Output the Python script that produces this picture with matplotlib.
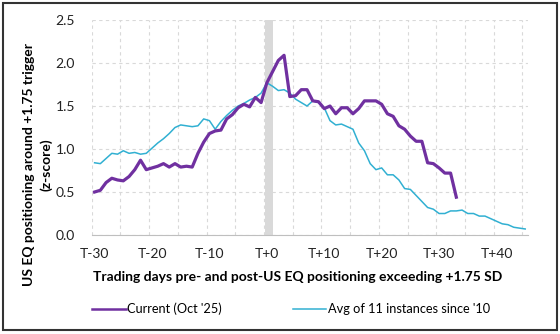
import matplotlib.pyplot as plt
from matplotlib.patches import Rectangle

plt.rcParams['font.family'] = ['Lato', 'DejaVu Sans']

# trading days relative to the trigger
days_avg = list(range(-30, 46))
days_cur = list(range(-30, 34))

current = [0.50, 0.52, 0.61, 0.66, 0.64, 0.63, 0.68, 0.76, 0.87, 0.76,
           0.78, 0.80, 0.83, 0.79, 0.83, 0.79, 0.80, 0.79, 0.95, 1.08,
           1.18, 1.21, 1.22, 1.35, 1.40, 1.48, 1.52, 1.49, 1.60, 1.54,
           1.77, 1.90, 2.03, 2.09, 1.61, 1.62, 1.69, 1.69, 1.56, 1.55,
           1.47, 1.50, 1.41, 1.48, 1.48, 1.41, 1.47, 1.56, 1.56, 1.56,
           1.52, 1.41, 1.38, 1.27, 1.23, 1.15, 1.09, 1.09, 0.84, 0.83,
           0.78, 0.72, 0.72, 0.44]

avg = [0.84, 0.83, 0.89, 0.95, 0.94, 0.98, 0.95, 0.96, 0.94, 0.95,
       1.01, 1.07, 1.12, 1.18, 1.25, 1.28, 1.27, 1.26, 1.27, 1.35,
       1.33, 1.23, 1.32, 1.39, 1.45, 1.50, 1.53, 1.57, 1.60, 1.65,
       1.77, 1.73, 1.68, 1.69, 1.65, 1.58, 1.54, 1.50, 1.56, 1.54,
       1.48, 1.33, 1.28, 1.29, 1.26, 1.23, 1.07, 0.98, 0.83, 0.76,
       0.78, 0.70, 0.70, 0.64, 0.54, 0.53, 0.46, 0.39, 0.32, 0.30,
       0.25, 0.25, 0.28, 0.28, 0.29, 0.25, 0.25, 0.22, 0.22, 0.19,
       0.16, 0.13, 0.12, 0.09, 0.08, 0.07]

tick_pos = [-30, -20, -10, 0, 10, 20, 30, 40]
tick_labels = ['T-30', 'T-20', 'T-10', 'T+0', 'T+10', 'T+20', 'T+30', 'T+40']

purple = '#7030A0'
cyan = '#31B0D2'

fig = plt.figure(figsize=(5.6, 3.34), dpi=100)
ax = fig.add_axes([0.1638, 0.2964, 0.943 - 0.1638, 0.940 - 0.2964])

ax.axvspan(-0.4, 1.0, color='#D9D9D9', lw=0, zorder=1)
ax.plot(days_avg, avg, color=cyan, lw=1.1, zorder=3, label="Avg of 11 instances since '10")
ax.plot(days_cur, current, color=purple, lw=2.3, zorder=4, label="Current (Oct '25)")

ax.set_xlim(-30.5, 45.5)
ax.set_ylim(0, 2.5)
ax.set_xticks(tick_pos)
ax.set_xticklabels(tick_labels)
ax.set_xticks([x - 0.5 for x in range(-30, 46, 5)], minor=True)
ax.set_yticks([0, 0.5, 1.0, 1.5, 2.0, 2.5])
ax.set_yticklabels(['0.0', '0.5', '1.0', '1.5', '2.0', '2.5'])
ax.tick_params(axis='both', which='both', length=0, labelsize=10, colors='#222222')
ax.tick_params(axis='x', pad=9)
ax.tick_params(axis='y', pad=12)

ax.grid(axis='y', which='major', color='#D9D9D9', ls=(0, (3, 3)), lw=0.8)
ax.grid(axis='x', which='minor', color='#D9D9D9', ls=(0, (3, 3)), lw=0.8)
ax.grid(axis='x', which='major', visible=False)
for s in ['top', 'right', 'left']:
    ax.spines[s].set_visible(False)
ax.spines['bottom'].set_color('#BFBFBF')

fig.text(298 / 560, 1 - 277 / 334, 'Trading days pre- and post-US EQ positioning exceeding +1.75 SD',
         ha='center', va='center', fontsize=10, fontweight='bold')
fig.text(38 / 560, 1 - 165 / 334, 'US EQ positioning around +1.75 trigger\n(z-score)',
         ha='center', va='center', rotation=90, fontsize=10, fontweight='bold',
         multialignment='center', linespacing=1.5)

h, l = ax.get_legend_handles_labels()
leg_handles = [plt.Line2D([], [], color=purple, lw=1.8), plt.Line2D([], [], color=cyan, lw=1.1)]
fig.legend(leg_handles, [l[1], l[0]], loc='center', bbox_to_anchor=(291 / 560, 1 - 309 / 334),
           ncol=2, frameon=False, fontsize=9.2, handlelength=2.6, handletextpad=0.1,
           columnspacing=5.6)

fig.patches.append(Rectangle((0.006, 0.012), 0.988, 0.979, transform=fig.transFigure,
                             fill=False, ec='#333333', lw=1.5))

fig.savefig('out.png', dpi=100)
